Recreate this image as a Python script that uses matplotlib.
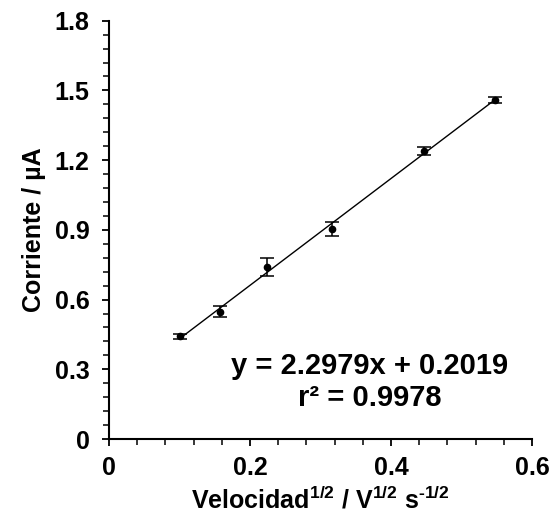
import matplotlib
matplotlib.use("Agg")
import matplotlib.pyplot as plt
from matplotlib.ticker import MultipleLocator
import numpy as np

plt.rcParams["font.family"] = "Liberation Sans"
plt.rcParams["font.weight"] = "bold"
plt.rcParams["mathtext.fontset"] = "custom"
plt.rcParams["mathtext.rm"] = "Liberation Sans:bold"
plt.rcParams["mathtext.default"] = "rm"

# Square root of scan rate vs peak current
sqrt_rate = [0.100, 0.158, 0.224, 0.316, 0.447, 0.548]
current = [0.442, 0.548, 0.740, 0.903, 1.240, 1.459]
current_err = [0.011, 0.024, 0.040, 0.029, 0.016, 0.014]

slope = 2.2979
intercept = 0.2019
r2 = 0.9978

x_ticks = [0, 0.2, 0.4, 0.6]
x_ticklabels = ["0", "0.2", "0.4", "0.6"]
y_ticks = [0, 0.3, 0.6, 0.9, 1.2, 1.5, 1.8]
y_ticklabels = ["0", "0.3", "0.6", "0.9", "1.2", "1.5", "1.8"]

fig = plt.figure(figsize=(5.51, 5.18), dpi=100)
ax = fig.add_axes([0.198, 0.1525, 0.7675, 0.8075])

ax.errorbar(sqrt_rate, current, yerr=current_err, fmt="o", color="black",
            markersize=4.5, capsize=5, elinewidth=1.1, capthick=1.1, zorder=3)

xfit = np.array([sqrt_rate[0], sqrt_rate[-1]])
ax.plot(xfit, slope * xfit + intercept, color="black", lw=1.0)

ax.text(0.37, 0.245, f"y = {slope}x + {intercept}\nr\u00b2 = {r2}",
        ha="center", va="center", fontsize=21, fontweight="bold",
        linespacing=1.15)

ax.set_xlim(0, 0.6)
ax.set_ylim(0, 1.8)
ax.set_xticks(x_ticks)
ax.set_xticklabels(x_ticklabels)
ax.set_yticks(y_ticks)
ax.set_yticklabels(y_ticklabels)
ax.xaxis.set_minor_locator(MultipleLocator(0.04))
ax.yaxis.set_minor_locator(MultipleLocator(0.06))

for s in ("top", "right"):
    ax.spines[s].set_visible(False)
for s in ("left", "bottom"):
    ax.spines[s].set_linewidth(1.5)

ax.tick_params(axis="both", which="major", length=5, width=1.3,
               labelsize=18, direction="out")
ax.tick_params(axis="both", which="minor", length=4, width=1.1,
               direction="out")
ax.tick_params(axis="x", which="major", pad=7)
ax.tick_params(axis="y", which="major", pad=9)

# hyphen (not minus) in the exponent
ax.set_xlabel("Velocidad$^{1/2}$ / V$^{1/2}$ s$^{\u20101/2}$", fontsize=18,
              fontweight="bold", labelpad=5)
ax.set_ylabel("Corriente / \u00b5A", fontsize=18, fontweight="bold",
              labelpad=6)

fig.savefig("out.png", dpi=100)
